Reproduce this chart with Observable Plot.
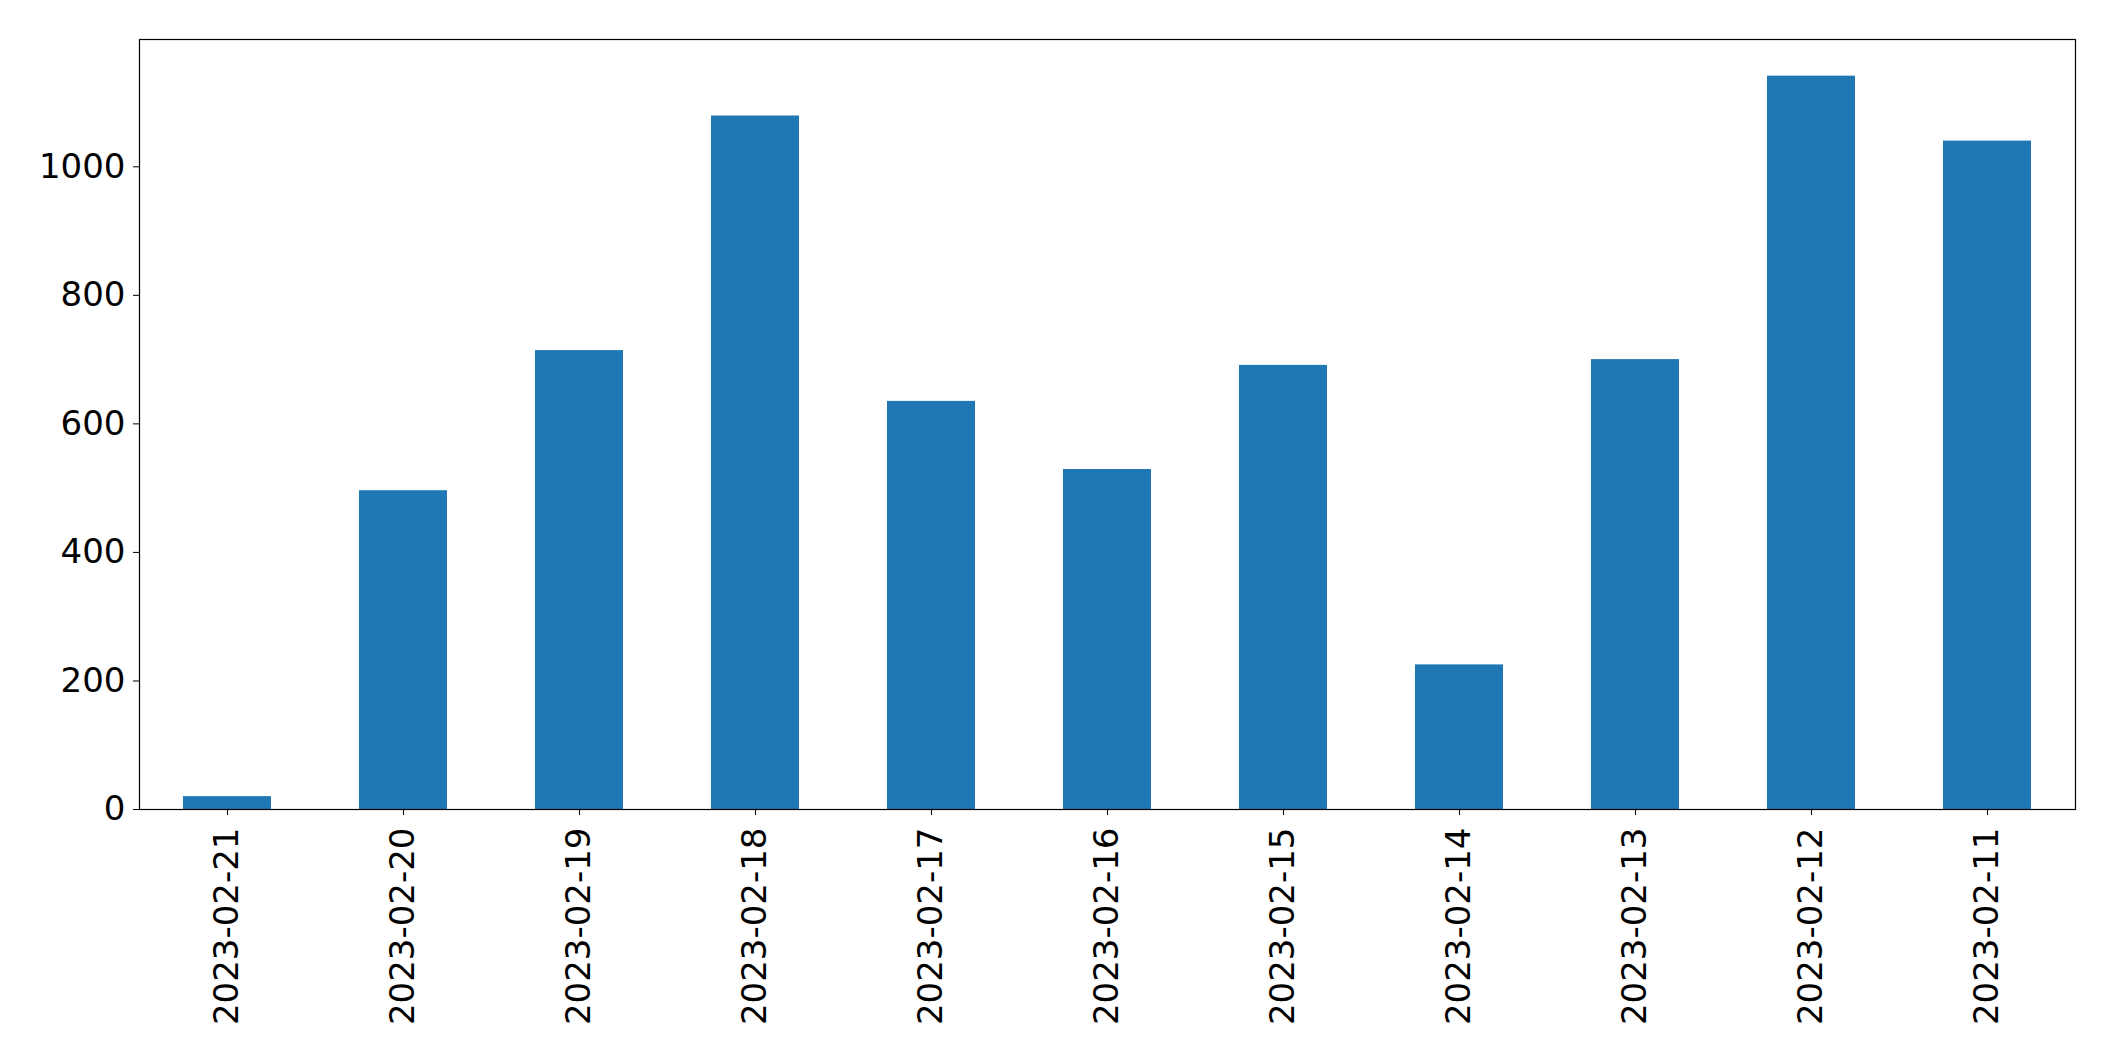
<!DOCTYPE html>
<html>
<head>
<meta charset="utf-8">
<script src="https://cdn.jsdelivr.net/npm/d3@7"></script>
<script src="https://cdn.jsdelivr.net/npm/@observablehq/plot@0.6"></script>
<style>
  html, body { margin: 0; padding: 0; background: white; }
  #chart svg { display: block; }
</style>
</head>
<body>
<div id="chart"></div>
<script>
const dates = ["2023-02-21","2023-02-20","2023-02-19","2023-02-18","2023-02-17","2023-02-16","2023-02-15","2023-02-14","2023-02-13","2023-02-12","2023-02-11"];
const counts = [20, 496, 714, 1079, 635, 529, 691, 225, 700, 1141, 1040];
const yTicks = [0, 200, 400, 600, 800, 1000];

const data = dates.map((d, i) => ({date: d, count: counts[i]}));

const chart = Plot.plot({
  width: 2115,
  height: 1061,
  marginLeft: 139,
  marginRight: 40,
  marginTop: 39,
  marginBottom: 252,
  style: {fontFamily: "DejaVu Sans", fontSize: "34px", color: "black", background: "white"},
  x: {domain: dates, paddingInner: 0.5, paddingOuter: 0.25, label: null},
  y: {domain: [0, d3.max(counts) * 1.05], label: null},
  marks: [
    Plot.barY(data, {x: "date", y: "count", fill: "#1f77b4"}),
    Plot.frame({stroke: "black", strokeWidth: 1.2}),
    Plot.axisY({ticks: yTicks, tickFormat: d => String(d), tickSize: 6, tickPadding: 8, label: null, fontSize: 34, stroke: "black"}),
    Plot.axisX({tickRotate: -90, tickSize: 6, tickPadding: 12, label: null, fontSize: 34, stroke: "black"})
  ]
});
document.getElementById("chart").appendChild(chart);
</script>
</body>
</html>
